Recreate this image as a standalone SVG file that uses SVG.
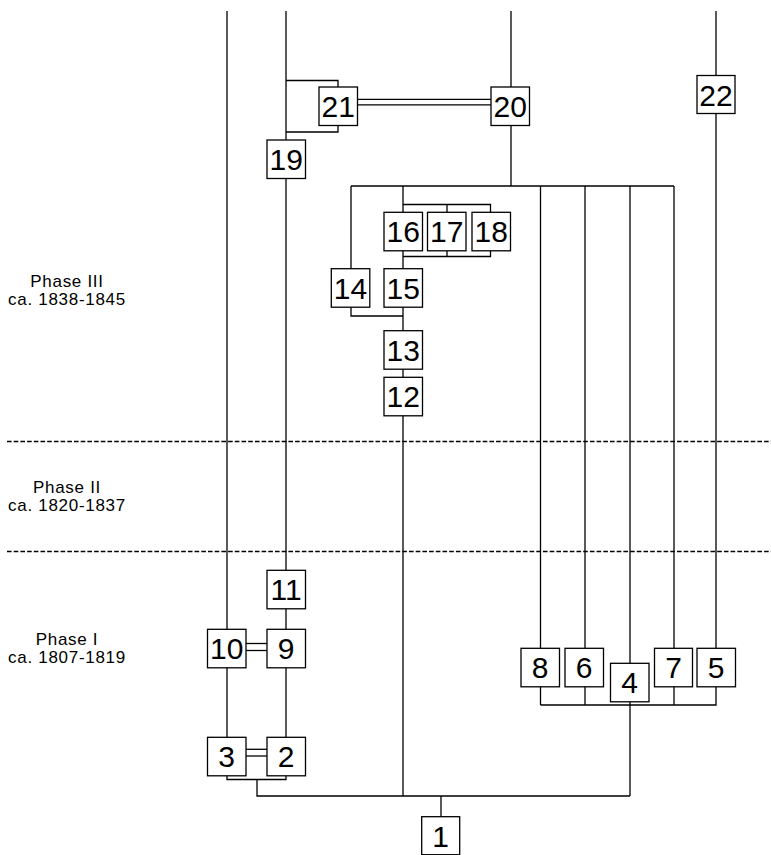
<svg xmlns="http://www.w3.org/2000/svg" width="771" height="855" viewBox="0 0 771 855">
<style>
.bg{fill:#fff}
.c path,.c line{fill:none;stroke:#000;stroke-width:1.3}
.node rect{fill:#fff;stroke:#000;stroke-width:1.3}
.node text{font-family:"Liberation Sans",Arial,sans-serif;font-size:30px;text-anchor:middle;fill:#000}
.lbl{font-family:"Liberation Sans",Arial,sans-serif;font-size:17px;letter-spacing:0.7px;text-anchor:middle;fill:#000}
.dash{stroke:#000;stroke-width:1.3;stroke-dasharray:4.6 2.1}
</style>
<rect class="bg" x="0" y="0" width="771" height="855"/>
<g id="phases">
<line class="dash" x1="7" y1="441.5" x2="771" y2="441.5"/>
<line class="dash" x1="7" y1="551.5" x2="771" y2="551.5"/>
<text class="lbl" x="67" y="287">Phase III</text>
<text class="lbl" x="67" y="305.3">ca. 1838-1845</text>
<text class="lbl" x="67" y="493.3">Phase II</text>
<text class="lbl" x="67" y="511">ca. 1820-1837</text>
<text class="lbl" x="67" y="645">Phase I</text>
<text class="lbl" x="67" y="663.3">ca. 1807-1819</text>
</g>
<g id="connectors" class="c">
<path d="M227,11V737"/>
<path d="M286,11V737"/>
<path d="M286,80.5H338V87M338,125.5V132H286"/>
<path d="M511,11V186"/>
<path d="M716,11V648"/>
<path d="M351,186H674"/>
<path d="M351,186V316H403"/>
<path d="M403,186V796"/>
<path d="M403,204.5H490.5V212M447,204.5V212"/>
<path d="M403,256.5H490.5V251M447,256.5V251"/>
<path d="M540.5,186V705"/>
<path d="M585,186V705"/>
<path d="M630,186V796"/>
<path d="M674,186V705"/>
<path d="M540.5,705H716V687"/>
<path d="M227,776V779.5H286V776"/>
<path d="M257,779.5V796H630"/>
<path d="M441,796V817"/>
<line x1="357" y1="99.3" x2="491" y2="99.3"/>
<line x1="357" y1="104.8" x2="491" y2="104.8"/>
<line x1="246" y1="643.5" x2="267" y2="643.5"/>
<line x1="246" y1="650.5" x2="267" y2="650.5"/>
<line x1="246" y1="749.3" x2="267" y2="749.3"/>
<line x1="246" y1="756" x2="267" y2="756"/>
</g>
<g id="n21" class="node"><rect x="319" y="87" width="38.5" height="38.5"/><text x="338.2" y="117">21</text></g>
<g id="n20" class="node"><rect x="491" y="87" width="38.5" height="38.5"/><text x="510.2" y="117">20</text></g>
<g id="n22" class="node"><rect x="697" y="75.5" width="38" height="38"/><text x="716" y="105.5">22</text></g>
<g id="n19" class="node"><rect x="267" y="140" width="38.5" height="38.5"/><text x="286.2" y="170">19</text></g>
<g id="n16" class="node"><rect x="384" y="212.3" width="38.5" height="38.5"/><text x="403.2" y="242.3">16</text></g>
<g id="n17" class="node"><rect x="427.5" y="212.3" width="38.5" height="38.5"/><text x="446.7" y="242.3">17</text></g>
<g id="n18" class="node"><rect x="472" y="212.3" width="38.5" height="38.5"/><text x="491.2" y="242.3">18</text></g>
<g id="n14" class="node"><rect x="331.3" y="268.7" width="38.5" height="38.5"/><text x="350.5" y="298.7">14</text></g>
<g id="n15" class="node"><rect x="384" y="268.7" width="38.5" height="38.5"/><text x="403.2" y="298.7">15</text></g>
<g id="n13" class="node"><rect x="384" y="330.7" width="38.5" height="38.5"/><text x="403.2" y="360.7">13</text></g>
<g id="n12" class="node"><rect x="384" y="377.3" width="38.5" height="38.5"/><text x="403.2" y="407.3">12</text></g>
<g id="n11" class="node"><rect x="267" y="570.3" width="38.5" height="38.5"/><text x="286.2" y="600.3">11</text></g>
<g id="n10" class="node"><rect x="207.5" y="629.3" width="38.5" height="38.5"/><text x="226.7" y="659.3">10</text></g>
<g id="n9" class="node"><rect x="267" y="629.3" width="38.5" height="38.5"/><text x="286.2" y="659.3">9</text></g>
<g id="n8" class="node"><rect x="521" y="648.3" width="38.5" height="38.5"/><text x="540.2" y="678.3">8</text></g>
<g id="n6" class="node"><rect x="565" y="648.3" width="38.5" height="38.5"/><text x="584.2" y="678.3">6</text></g>
<g id="n4" class="node"><rect x="610.5" y="663.3" width="38.5" height="38.5"/><text x="629.7" y="693.3">4</text></g>
<g id="n7" class="node"><rect x="654.5" y="648.3" width="38" height="38.5"/><text x="673.5" y="678.3">7</text></g>
<g id="n5" class="node"><rect x="697" y="648.3" width="38.5" height="38.5"/><text x="716.2" y="678.3">5</text></g>
<g id="n3" class="node"><rect x="207.5" y="737.3" width="38.5" height="38.5"/><text x="226.7" y="767.3">3</text></g>
<g id="n2" class="node"><rect x="267" y="737.3" width="38.5" height="38.5"/><text x="286.2" y="767.3">2</text></g>
<g id="n1" class="node"><rect x="421.7" y="816.7" width="38" height="38"/><text x="440.7" y="846.7">1</text></g>
</svg>
